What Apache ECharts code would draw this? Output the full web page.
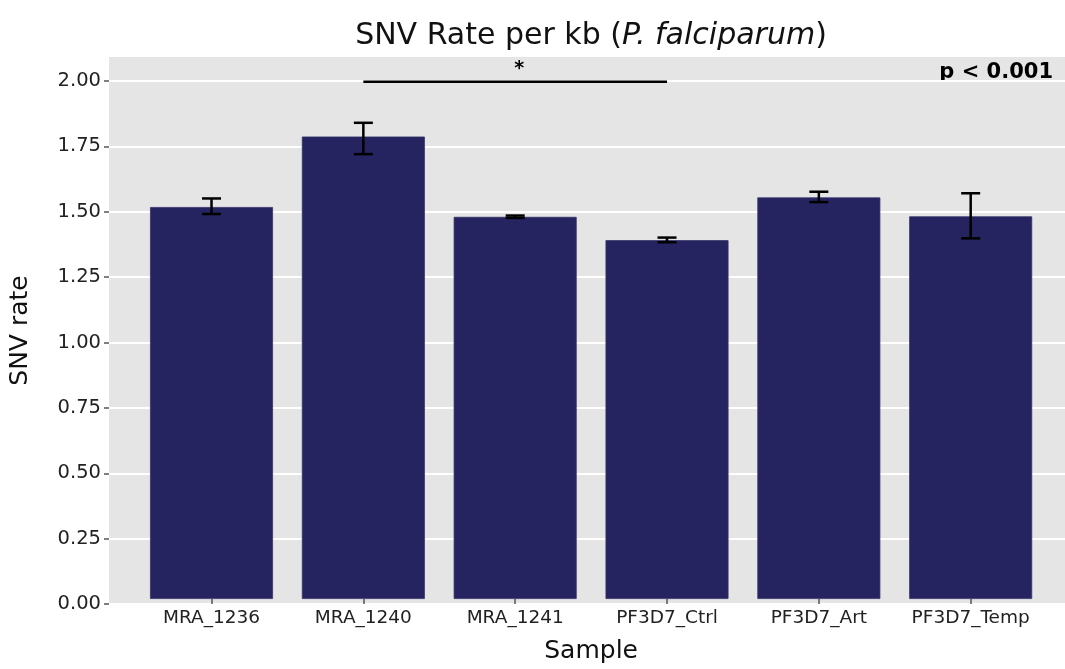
<!DOCTYPE html>
<html>
<head>
<meta charset="utf-8">
<script src="https://cdn.jsdelivr.net/npm/echarts@6/dist/echarts.min.js"></script>
<style>html,body{margin:0;padding:0;background:#fff;}#c{width:1065px;height:669px;}</style>
</head>
<body>
<div id="c"></div>
<script>
const categories = ['MRA_1236', 'MRA_1240', 'MRA_1241', 'PF3D7_Ctrl', 'PF3D7_Art', 'PF3D7_Temp'];
const snvRate = [1.513, 1.785, 1.475, 1.385, 1.550, 1.477];
const errLow = [1.486, 1.717, 1.471, 1.377, 1.532, 1.392];
const errHigh = [1.546, 1.838, 1.480, 1.395, 1.572, 1.566];
const yTicks = [0, 0.25, 0.5, 0.75, 1.0, 1.25, 1.5, 1.75, 2.0];
const sigBracket = [[1, 3, 2.0, '*']];
const pText = 'p < 0.001';

const FONT = 'DejaVu Sans';
const TOP = 57, BOTTOM = 65, YMAX = 2.092;

const chart = echarts.init(document.getElementById('c'), null, {renderer: 'canvas'});
const option = {
  animation: false,
  backgroundColor: '#ffffff',
  textStyle: {fontFamily: FONT},
  grid: [
    {left: 109, right: 0, top: TOP, bottom: BOTTOM, show: true, backgroundColor: '#e5e5e5', borderWidth: 0},
    {left: 135.6, right: 18.4, top: TOP, bottom: BOTTOM}
  ],
  xAxis: [
    {gridIndex: 0, type: 'value', min: 0, max: 1, show: false},
    {gridIndex: 1, type: 'category', data: categories, boundaryGap: true,
     axisLine: {show: false},
     axisTick: {show: true, alignWithLabel: true, interval: 0, length: 5, lineStyle: {color: '#555', width: 1.5}},
     axisLabel: {color: '#222', fontSize: 18.5, fontFamily: FONT, margin: 10, interval: 0},
     name: 'Sample', nameLocation: 'middle', nameGap: 40,
     nameTextStyle: {fontSize: 25, color: '#111', fontFamily: FONT}}
  ],
  yAxis: [
    {gridIndex: 0, type: 'value', min: 0, max: YMAX, interval: 0.25,
     axisLine: {show: false},
     axisTick: {show: true, length: 5, customValues: yTicks, lineStyle: {color: '#555', width: 1.5}},
     splitLine: {show: true, lineStyle: {color: '#ffffff', width: 2}},
     axisLabel: {color: '#222', fontSize: 19.5, fontFamily: FONT, margin: 8, customValues: yTicks,
       formatter: v => yTicks.some(t => Math.abs(t - v) < 1e-6) ? v.toFixed(2) : ''},
     name: 'SNV rate', nameLocation: 'middle', nameGap: 76,
     nameTextStyle: {fontSize: 25, color: '#111', fontFamily: FONT}},
    {gridIndex: 1, type: 'value', min: 0, max: YMAX, show: false, splitLine: {show: false}}
  ],
  series: [
    {type: 'bar', xAxisIndex: 1, yAxisIndex: 1, data: snvRate, barWidth: '81%',
     itemStyle: {color: '#252360', borderColor: '#35346c', borderWidth: 0.8}},
    {type: 'custom', xAxisIndex: 1, yAxisIndex: 1, z: 5,
     data: categories.map((c, i) => [i, errLow[i], errHigh[i]]),
     renderItem: function (params, api) {
       const lo = api.coord([api.value(0), api.value(1)]);
       const hi = api.coord([api.value(0), api.value(2)]);
       const cw = 9.5;
       const st = {stroke: '#000', lineWidth: 2.5};
       return {type: 'group', children: [
         {type: 'line', shape: {x1: lo[0], y1: lo[1], x2: hi[0], y2: hi[1]}, style: st},
         {type: 'line', shape: {x1: lo[0] - cw, y1: lo[1], x2: lo[0] + cw, y2: lo[1]}, style: st},
         {type: 'line', shape: {x1: hi[0] - cw, y1: hi[1], x2: hi[0] + cw, y2: hi[1]}, style: st}
       ]};
     }},
    {type: 'custom', xAxisIndex: 1, yAxisIndex: 1, z: 6,
     data: sigBracket,
     renderItem: function (params, api) {
       const a = api.coord([api.value(0), api.value(2)]);
       const b = api.coord([api.value(1), api.value(2)]);
       return {type: 'group', children: [
         {type: 'line', shape: {x1: a[0], y1: a[1] + 1, x2: b[0], y2: b[1] + 1}, style: {stroke: '#000', lineWidth: 2.5}},
         {type: 'text', x: (a[0] + b[0]) / 2 + 4, y: a[1] - 12,
          style: {text: sigBracket[params.dataIndex][3], fontSize: 19, fontWeight: 'bold', fontFamily: FONT,
                  fill: '#000', align: 'center', verticalAlign: 'middle'}}
       ]};
     }}
  ],
  graphic: [
    {type: 'text', x: 591, y: 36,
     style: {
       text: '{n|SNV Rate per kb (}{i|P. falciparum}{n|)}',
       align: 'center', verticalAlign: 'middle',
       rich: {
         n: {fontSize: 30, fontFamily: FONT, fill: '#111'},
         i: {fontSize: 30, fontFamily: FONT, fontStyle: 'italic', fill: '#111'}
       }
     }},
    {type: 'text', right: 12, top: 62,
     style: {text: pText, fontSize: 21, fontWeight: 'bold', fontFamily: FONT, fill: '#000'}}
  ]
};
chart.setOption(option);
</script>
</body>
</html>
